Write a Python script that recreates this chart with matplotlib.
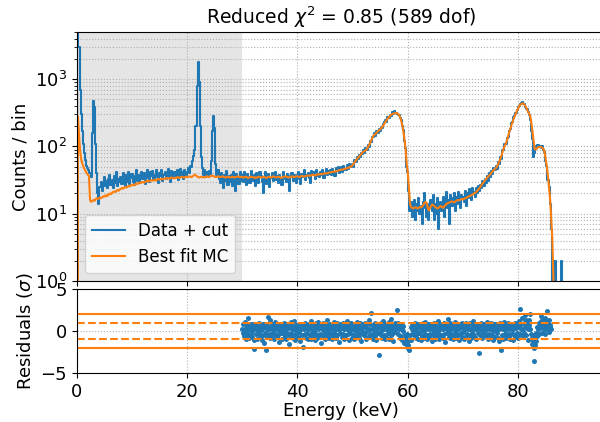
import numpy as np
import matplotlib
matplotlib.use('Agg')
import matplotlib.pyplot as plt

# spectrum, 0.2 keV bins starting at 0 keV (one row = 2 keV)
bin_width = 0.2
counts = [
    0, 9000, 3000, 700, 300, 170, 110, 80, 62, 52,
    48, 44, 40, 35, 160, 470, 380, 110, 40, 20,
    14, 25, 30, 22, 28, 35, 26, 31, 24, 33,
    38, 27, 32, 24, 36, 29, 41, 26, 33, 30,
    35, 28, 40, 31, 26, 37, 30, 42, 28, 34,
    39, 30, 27, 36, 44, 31, 38, 29, 35, 42,
    33, 40, 28, 37, 45, 34, 30, 41, 36, 43,
    32, 38, 45, 35, 29, 40, 36, 44, 31, 38,
    42, 33, 39, 47, 35, 30, 43, 37, 34, 41,
    36, 44, 32, 39, 46, 35, 41, 33, 45, 38,
    42, 48, 40, 52, 50, 60, 72, 90, 200, 800,
    1800, 900, 200, 70, 48, 38, 44, 35, 41, 37,
    43, 39, 60, 170, 280, 190, 55, 38, 44, 33,
    29, 40, 35, 24, 38, 31, 43, 27, 36, 30,
    37, 26, 41, 33, 22, 39, 34, 28, 42, 31,
    38, 30, 41, 33, 27, 39, 35, 29, 43, 34,
    31, 37, 26, 40, 34, 29, 42, 36, 30, 20,
    33, 41, 28, 36, 39, 25, 34, 40, 31, 37,
    42, 32, 36, 29, 38, 34, 27, 41, 35, 33,
    30, 39, 36, 22, 35, 40, 31, 38, 34, 29,
    37, 41, 33, 28, 39, 35, 44, 32, 38, 36,
    40, 34, 29, 43, 37, 41, 33, 45, 36, 39,
    35, 42, 38, 44, 34, 40, 46, 37, 43, 39,
    45, 38, 47, 41, 36, 48, 43, 50, 40, 46,
    49, 42, 51, 46, 44, 53, 47, 55, 49, 52,
    55, 50, 62, 58, 70, 64, 74, 69, 80, 77,
    90, 80, 95, 88, 104, 99, 122, 115, 140, 138,
    158, 145, 170, 160, 180, 172, 196, 185, 215, 230,
    245, 232, 270, 262, 295, 285, 320, 300, 335, 318,
    318, 300, 298, 262, 250, 200, 175, 120, 95, 50,
    42, 22, 11, 15, 9, 13, 16, 8, 14, 11,
    17, 10, 13, 7, 15, 20, 12, 9, 14, 8,
    13, 16, 11, 19, 8, 14, 10, 17, 6, 12,
    15, 11, 18, 9, 14, 21, 12, 16, 7, 19,
    13, 17, 20, 11, 18, 14, 21, 16, 12, 19,
    18, 15, 22, 13, 20, 17, 23, 19, 16, 24,
    21, 18, 24, 20, 26, 22, 27, 24, 31, 26,
    33, 29, 36, 31, 40, 35, 43, 39, 48, 44,
    52, 47, 58, 55, 70, 66, 90, 88, 108, 110,
    132, 140, 172, 180, 220, 228, 270, 280, 318, 345,
    380, 395, 425, 440, 450, 425, 420, 390, 360, 330,
    290, 250, 170, 130, 70, 80, 95, 100, 104, 98,
    103, 95, 100, 88, 84, 60, 52, 32, 25, 14,
    6, 1, 2, 0, 2, 0, 0, 0, 0, 2,
    0, 0, 0, 0, 0, 0, 0, 0, 0, 0,
]

best_fit = [
    0, 280, 150, 85, 64, 56, 50, 46, 43, 40,
    38, 37, 16, 15, 15.5, 16, 15.5, 16.5, 17, 16.5,
    17, 17.5, 17, 17.5, 18, 18.5, 18, 19, 18.5, 19.5,
    20, 19.5, 20.5, 21, 21.5, 21, 22, 22.5, 22, 23,
    23.5, 24, 23.5, 24.5, 25, 24.5, 25, 26, 25.5, 26.5,
    26.5, 27, 26.5, 27.5, 28, 27.5, 28.5, 29, 28.5, 29.5,
    29.5, 29, 30, 30.5, 30, 31, 30.5, 31, 31.5, 31,
    31.5, 32, 31, 32.5, 33, 32, 32.5, 33, 32.5, 33,
    33.5, 33, 34, 33.5, 33, 34, 34.5, 34, 33.5, 34,
    34, 35, 34.5, 34, 35, 35.5, 35, 34.5, 35, 35.5,
    35, 35.5, 36, 35.5, 35, 36, 37, 38, 37, 36,
    35, 34.5, 35, 35.5, 35, 34.5, 35, 35.5, 36, 35.5,
    35, 36, 36.5, 37, 36, 35.5, 35, 35.5, 36, 35.5,
    35, 35.5, 36, 35.5, 35, 34.5, 35, 35.5, 35, 34.5,
    35, 35.5, 35, 34.5, 35, 35.5, 36, 35.5, 35, 35.5,
    35, 34.5, 35, 35.5, 35, 34, 34.5, 35, 35.5, 35,
    34.5, 35, 34, 34.5, 35, 35.5, 35, 34.5, 35, 35.5,
    35, 34.5, 34, 35, 35.5, 35, 34.5, 35, 36, 35.5,
    35, 34.5, 35, 35.5, 35, 34, 34.5, 35, 35.5, 36,
    35.5, 35, 34.5, 35, 35.5, 36, 35.5, 35, 35.5, 36,
    36, 35.5, 35, 36, 36.5, 36, 35.5, 36, 36.5, 37,
    37, 36.5, 37, 37.5, 38, 37.5, 37, 38, 38.5, 38,
    38.5, 39, 38.5, 39, 39.5, 40, 39.5, 40, 40.5, 41,
    41, 41.5, 42, 42.5, 42, 43, 43.5, 44, 44.5, 45,
    45, 45.5, 46, 46.5, 47, 47.5, 48, 49, 50, 51,
    53, 56, 59, 62, 65, 68, 71, 74, 78, 82,
    84, 86, 88, 92, 98, 106, 116, 126, 136, 146,
    150, 156, 162, 168, 174, 180, 188, 196, 208, 222,
    236, 250, 263, 275, 286, 296, 304, 309, 312, 313,
    312, 306, 294, 272, 240, 205, 165, 126, 90, 55,
    40, 24, 14, 12.5, 12.2, 12, 12.3, 12.5, 12.2, 12,
    12.3, 12.6, 12.4, 12.8, 13.5, 14.5, 15, 14.5, 12.5, 11.2,
    12, 13, 13.7, 13.5, 13, 12.5, 12.2, 12, 12.3, 12.8,
    13, 12.5, 12.2, 12.8, 13.5, 14, 14.3, 14.5, 14.8, 15,
    15.2, 15, 14.8, 15.2, 15.6, 16, 15.8, 16, 16.3, 16.5,
    16.3, 16.6, 17, 17.3, 17.6, 18, 18.3, 18.6, 19, 19.5,
    20, 20.5, 21, 22, 23, 24, 25.5, 27, 28.5, 30,
    31.5, 33, 34.5, 36, 37.5, 39, 41, 43, 45, 46.5,
    48, 51, 55, 60, 66, 74, 85, 95, 103, 112,
    125, 145, 165, 185, 210, 235, 260, 285, 310, 340,
    370, 400, 418, 430, 435, 430, 412, 385, 355, 325,
    305, 280, 220, 165, 120, 92, 90, 94, 97, 99,
    98, 97, 95, 92, 80, 64, 50, 36, 24, 16,
    8, 4, 1, 0.3, 0, 0, 0, 0, 0, 0,
    0, 0, 0, 0, 0, 0, 0, 0, 0, 0,
]

# residuals in sigma, 0.1 keV steps from 30 keV (one row = 2 keV)
res_start = 30.0
res_step = 0.1
residuals = [
    0.3, -0.2, 0.9, -0.6, 0.1, 1.1, -1.0, 0.4, -0.2, 0.7, 1.6, -0.5, 0.2, -0.8, 0.5, 0.9, -0.3, 0.0, -0.7, 0.8,
    0.4, -1.1, -2.1, 0.6, 0.2, -0.4, 0.8, -0.9, 0.3, 0.7, -0.2, 1.0, -0.6, 0.1, 0.5, -1.1, 0.2, 0.8, -0.5, -1.4,
    0.5, -0.2, 0.9, -2.2, 0.3, -0.7, 0.6, 1.7, -0.4, 0.2, -0.8, 1.3, 0.4, -0.5, 0.8, -0.1, 0.7, -0.9, 0.2, 1.1,
    -0.3, 0.5, -0.7, 0.9, 0.1, -0.5, 0.6, -1.3, 0.3, 0.7, -0.2, 0.4, -0.9, 0.7, 0.2, -0.4, 1.0, -0.7, 0.0, 0.5,
    -1.0, 0.2, 0.8, -0.4, -1.5, 0.5, 0.7, -0.6, 1.1, -0.2, 0.3, -0.8, 0.6, 1.2, -0.5, 0.1, -1.1, 0.4, 0.7, -0.2,
    0.5, -0.7, 0.9, -0.1, 0.3, -1.2, 0.7, 0.2, -0.5, 0.8, -1.9, 0.2, 0.6, -0.3, 1.0, -0.8, 0.4, -0.2, 0.7, -1.0,
    0.2, 0.8, -0.5, 0.5, -0.9, 1.2, -0.2, 0.3, -0.6, 0.9, 0.0, -1.1, 0.5, 1.0, -0.4, 0.6, -0.8, 0.2, 1.1, -0.5,
    0.7, -0.3, 0.8, -1.4, 0.4, 0.2, -0.7, 1.0, -0.2, 0.5, -1.0, 0.3, 0.8, -0.5, 1.3, -0.1, 0.5, -0.8, 0.6, 0.9,
    -0.4, 0.2, -1.0, 0.8, 0.5, -0.6, 1.1, -0.2, 0.1, 0.7, -0.8, 1.0, -0.5, 0.3, 0.8, -1.3, 0.5, -0.2, 0.9, 0.4,
    -0.7, 0.6, 1.0, -0.3, 0.2, -0.9, 0.5, 0.8, -0.5, 0.2, 1.2, -0.4, 0.7, -1.1, 0.1, 0.5, -0.2, 1.0, -0.8, 0.3,
    0.8, -0.5, 0.4, -1.0, 0.9, 0.0, -0.6, 0.5, 1.1, -0.2, 0.3, -0.8, 0.7, -0.3, 1.0, 0.2, -1.2, 0.5, -0.1, 0.8,
    -0.5, 0.6, 1.0, -0.2, 0.4, -0.9, 0.8, 0.1, -0.7, 1.3, 0.2, -0.4, 0.9, 2.2, -0.5, 0.3, -1.0, 0.7, 0.5, -0.2,
    1.0, -0.6, 0.2, -1.1, 0.7, 0.4, -0.2, 0.8, -2.9, 0.5, -0.3, 1.0, 0.0, -0.8, 0.6, 1.2, -0.5, 0.2, -0.9, 0.8,
    0.3, -0.7, 0.9, 0.5, -0.2, 1.1, -1.0, 0.6, 0.1, -0.5, 1.4, 0.2, -0.4, 0.8, -1.2, 0.5, 1.0, -0.1, 0.4, 0.8,
    2.5, 0.7, -0.3, 1.0, 0.2, -0.8, 0.5, 0.9, -0.6, 0.3, -1.1, 0.0, 0.6, -1.4, -0.5, -1.0, -1.6, -0.7, -1.3, -0.3,
    -2.0, -1.7, -2.2, -1.1, -0.5, 0.5, -1.1, 0.2, 0.7, -0.2, 0.9, -0.5, 0.4, 1.0, -0.8, 0.1, 0.6, -0.3, 0.8, -0.9,
    0.5, -0.2, 0.8, -1.1, 0.3, 0.7, -0.6, 1.0, 0.0, -0.8, 0.5, 1.1, -0.4, 0.2, -1.0, 0.6, 0.8, -0.5, 0.2, -0.7,
    0.9, -0.3, 0.4, -1.2, 0.7, 0.1, -0.5, 1.0, -0.2, 0.5, -0.9, 0.8, 0.2, -0.6, 1.2, -0.1, 0.3, -1.0, 0.6, 0.2,
    -0.5, 0.8, 0.5, -0.8, 0.2, 1.0, -0.4, 0.7, -1.3, 0.4, 0.9, -0.2, 0.0, 1.4, -0.7, 0.5, -0.8, 1.0, 0.2, -0.3,
    0.6, -1.0, 0.8, 0.3, -0.5, 1.1, -0.2, 0.5, -0.8, 0.9, 0.1, -0.5, 0.7, -1.1, 0.4, 0.8, -0.2, 0.5, -0.7, 1.0,
    -0.1, 0.5, -0.9, 0.8, 0.2, -0.6, 1.0, -0.3, 0.6, 0.2, -1.2, 0.7, 1.0, -0.5, 0.3, -0.8, 0.8, 0.0, 1.2, -0.4,
    0.5, -0.7, 0.9, 0.2, -1.0, 0.4, 0.8, -0.2, 0.5, -2.6, 0.7, -0.5, 1.0, 0.1, -0.8, 0.6, 0.3, -0.4, 0.9, -0.2,
    0.4, 0.8, -0.6, 0.2, 1.1, -0.9, 0.5, -0.3, 0.8, 0.2, -0.8, 1.0, -0.5, 0.6, 0.0, -1.1, 0.8, 0.5, -0.7, 0.3,
    0.9, -0.2, 0.5, -0.8, 0.7, 0.2, -1.2, 1.0, -2.2, 0.4, -0.5, 0.8, 0.2, -1.0, 0.6, 1.1, -0.4, 0.1, -0.8, 0.5,
    0.7, -0.3, 1.0, -0.6, 0.3, 0.8, -0.9, 0.5, -0.2, 0.8, -1.1, 0.2, 0.6, -0.5, 1.0, -0.7, 0.4, 0.9, -0.2, 0.5,
    -0.8, 0.5, 1.2, 2.6, -0.4, 0.8, 0.2, 1.5, -0.6, 0.3, 1.0, -0.2, 1.9, 0.5, 1.3, -0.5, 0.9, 0.2, -1.1, 0.7,
    1.3, 0.3, 2.0, -0.3, -0.9, -1.5, -0.5, -1.1, -2.0, -3.6, -1.7, -0.8, -1.2, -0.2, 0.5, -0.6, 0.3, 1.0, -0.3, 0.6,
    0.4, 1.2, 1.8, -0.2, 0.7, 1.4, 0.3, 0.9, -0.4, 1.5, 0.3, 1.1, 2.4, 0.6, 0.8, -0.1, 1.3, 0.5, 0.7, 0.2,
]

chi2_red = 0.85
dof = 589
cut_energy = 30

energy = np.arange(len(counts)) * bin_width
res_energy = res_start + np.arange(len(residuals)) * res_step

fs = 13

fig = plt.figure(figsize=(6, 4.22), dpi=100)
ax = fig.add_axes([0.128, 0.334, 0.88, 0.590])
axr = fig.add_axes([0.128, 0.116, 0.88, 0.199], sharex=ax)

# top: spectrum
ax.axvspan(0, cut_energy, color='grey', alpha=0.2, lw=0, zorder=0)
ax.plot(energy, counts, drawstyle='steps-mid', color='C0', lw=1.5, label='Data + cut')
ax.plot(energy, best_fit, color='C1', lw=1.5, label='Best fit MC')
ax.set_yscale('log')
ax.set_ylim(1, 5000)
ax.set_xlim(0, 95.7)
ax.set_ylabel('Counts / bin', fontsize=fs)
ax.set_title('Reduced $\\chi^2$ = %.2f (%d dof)' % (chi2_red, dof), fontsize=13.5)
ax.grid(True, which='both', ls=':', color='#b0b0b0', lw=0.8)
ax.tick_params(labelbottom=False, labelsize=fs)
ax.legend(loc='lower left', fontsize=12)

# bottom: residuals
axr.plot(res_energy, residuals, 'o', color='C0', ms=3.6, mew=0)
for lvl in (-2, 2):
    axr.axhline(lvl, color='C1', lw=1.5)
for lvl in (-1, 1):
    axr.axhline(lvl, color='C1', lw=1.5, ls='--')
axr.set_ylim(-5, 5)
axr.set_yticks([-5, 0, 5])
axr.set_xticks([0, 20, 40, 60, 80])
axr.set_xlabel('Energy (keV)', fontsize=fs, labelpad=1)
axr.set_ylabel('Residuals ($\\sigma$)', fontsize=fs)
axr.grid(True, ls=':', color='#b0b0b0', lw=0.8)
axr.tick_params(labelsize=fs)

fig.savefig('out.png', dpi=100)
